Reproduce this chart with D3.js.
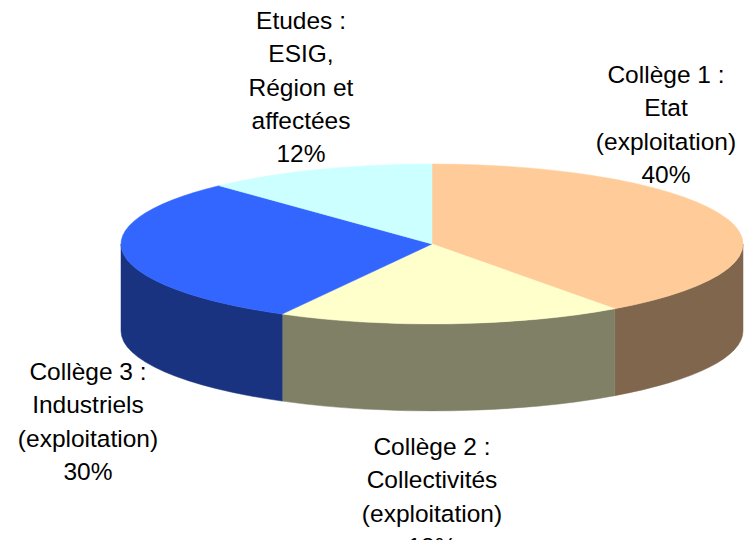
<!DOCTYPE html>
<html>
<head>
<meta charset="utf-8">
<script src="https://cdn.jsdelivr.net/npm/d3@7"></script>
<style>
  body { margin: 0; background: #fff; }
  text { font-family: "Liberation Sans", Arial, sans-serif; font-size: 24.5px; fill: #000; }
</style>
</head>
<body>
<svg width="744" height="540"></svg>
<script>
// slice data, clockwise from 12 o'clock
var labels = [
  ["Collège 1 :", "Etat", "(exploitation)"],
  ["Collège 2 :", "Collectivités", "(exploitation)"],
  ["Collège 3 :", "Industriels", "(exploitation)"],
  ["Etudes :", "ESIG,", "Région et", "affectées"]
];
var values = [40, 18, 30, 12];
var colors = ["#FFCC99", "#FFFFCC", "#3366FF", "#CCFFFF"];

var svg = d3.select("svg"),
    cx = 432, cy = 244, rx = 311, ry = 80, depth = 87;

// where each label block is centred (x) and where its first baseline sits
var labelPos = [[666, 83], [432, 455], [88, 380], [301, 29]];
var lineH = 33.3;

var pie = d3.pie().sort(null).value(function(d) { return d; });
var arcs = pie(values);

function pt(a, dy) {
  return [cx + rx * Math.sin(a), cy - ry * Math.cos(a) + (dy || 0)];
}

function half(c) {
  var k = d3.rgb(c);
  return d3.rgb(k.r * 0.5, k.g * 0.5, k.b * 0.5) + "";
}

// sides: only the front half of the ellipse (pi/2 .. 3pi/2) shows
var sides = svg.append("g");
arcs.forEach(function(d, i) {
  var s = Math.max(d.startAngle, Math.PI / 2),
      e = Math.min(d.endAngle, 3 * Math.PI / 2);
  if (e <= s) return;
  var p0 = pt(s), p1 = pt(e), p2 = pt(e, depth), p3 = pt(s, depth);
  var path = "M" + p0 + "A" + rx + "," + ry + " 0 0 1 " + p1 +
             "L" + p2 + "A" + rx + "," + ry + " 0 0 0 " + p3 + "Z";
  sides.append("path")
      .attr("d", path)
      .attr("fill", half(colors[i]))
      .attr("stroke", half(colors[i]))
      .attr("stroke-width", 0.5);
});

// tops
svg.append("g").selectAll("path")
  .data(arcs)
  .enter().append("path")
    .attr("d", function(d) {
      var p0 = pt(d.startAngle), p1 = pt(d.endAngle);
      var large = (d.endAngle - d.startAngle) > Math.PI ? 1 : 0;
      return "M" + cx + "," + cy + "L" + p0 + "A" + rx + "," + ry + " 0 " + large + " 1 " + p1 + "Z";
    })
    .attr("fill", function(d, i) { return colors[i]; })
    .attr("stroke", function(d, i) { return colors[i]; })
    .attr("stroke-width", 0.5);

// labels
var lab = svg.append("g").selectAll("text")
  .data(arcs)
  .enter().append("text")
    .attr("text-anchor", "middle")
    .attr("x", function(d, i) { return labelPos[i][0]; })
    .attr("y", function(d, i) { return labelPos[i][1]; });

lab.each(function(d, i) {
  var t = d3.select(this);
  var lines = labels[i].concat([d.value + "%"]);
  lines.forEach(function(l, j) {
    t.append("tspan")
      .attr("x", labelPos[i][0])
      .attr("dy", j === 0 ? 0 : lineH)
      .text(l);
  });
});
</script>
</body>
</html>
